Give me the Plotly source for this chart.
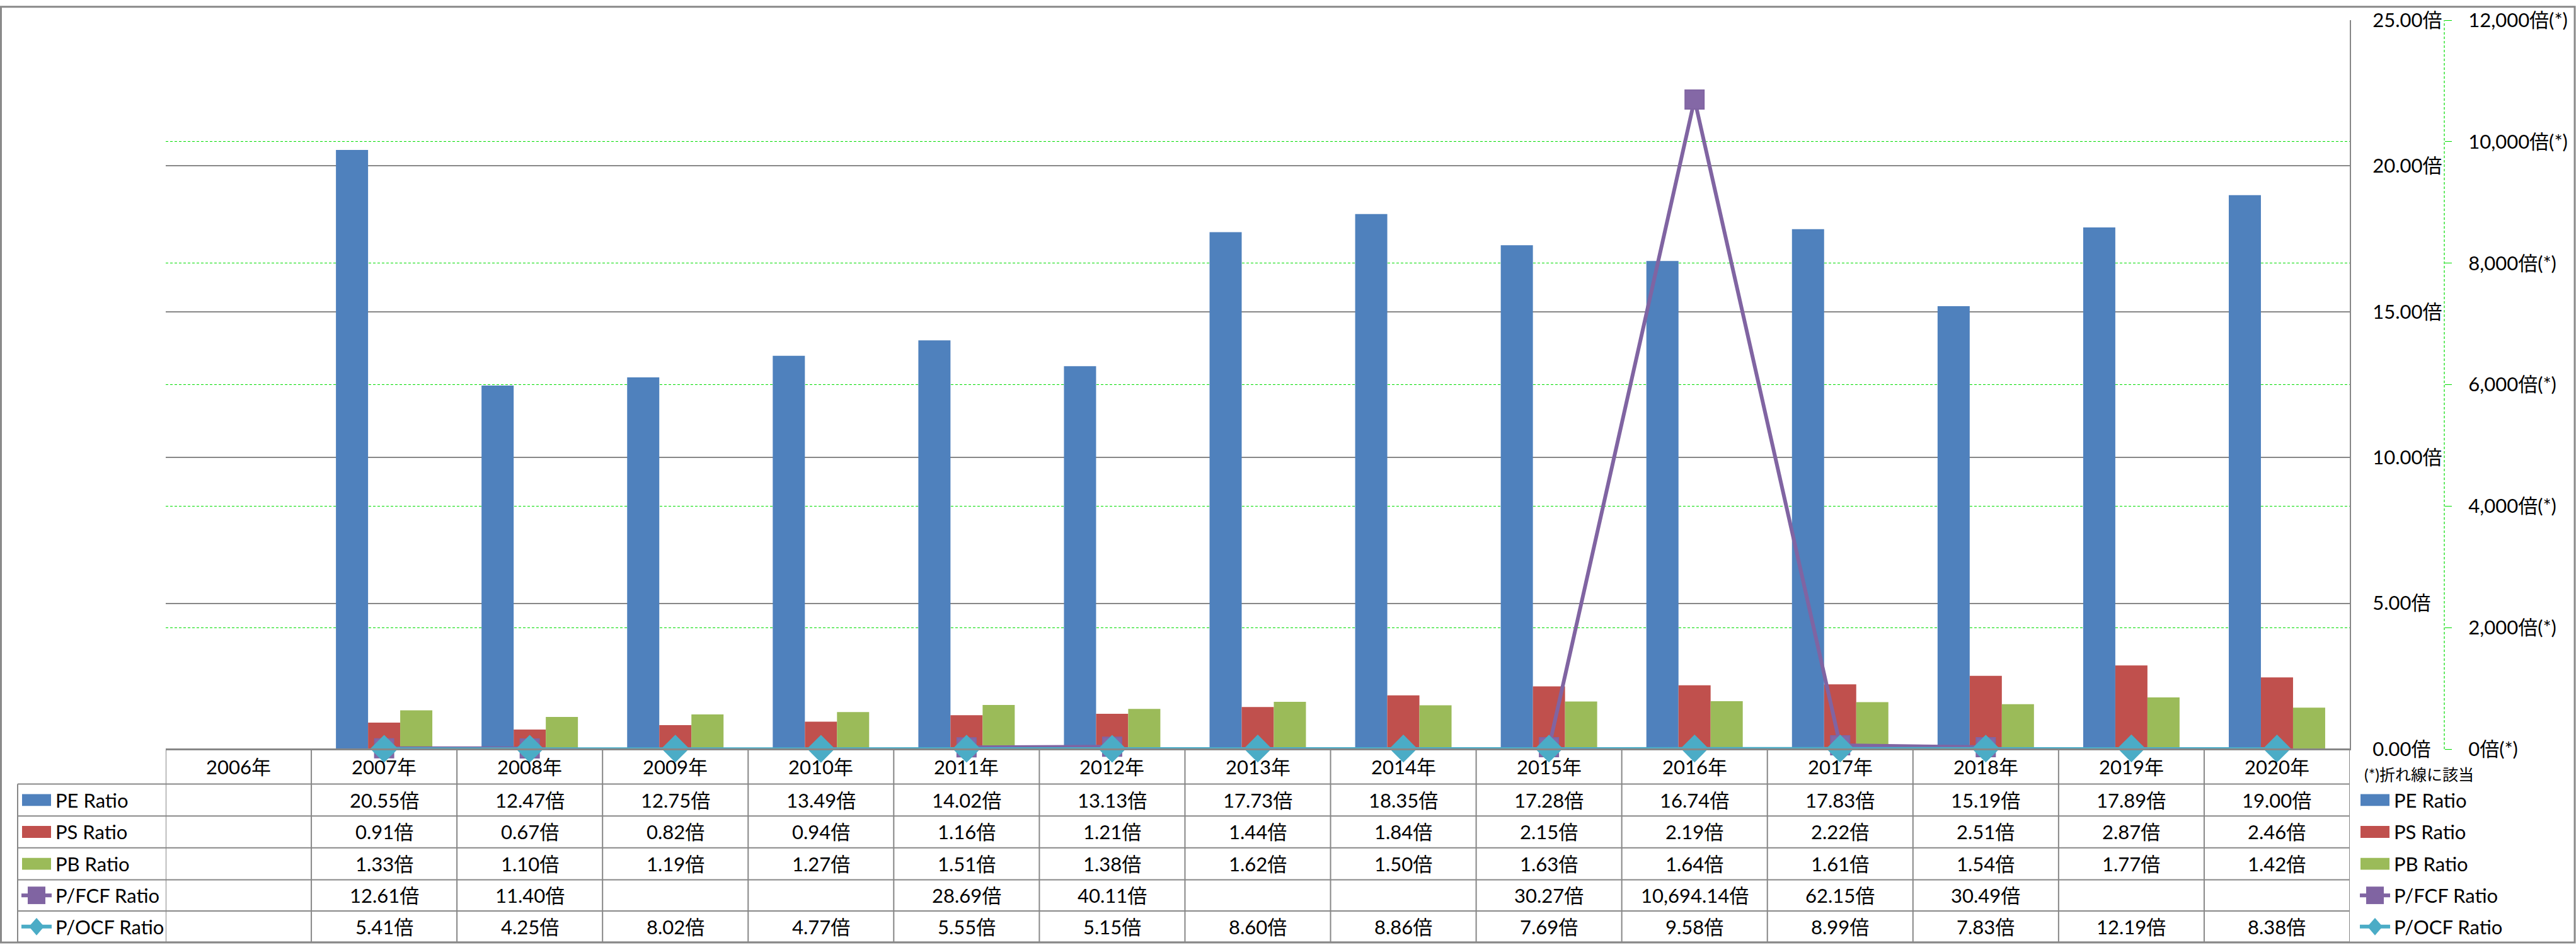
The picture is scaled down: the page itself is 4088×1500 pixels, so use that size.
import plotly.graph_objects as go

# ---------------- data ----------------
years = ["2006年", "2007年", "2008年", "2009年", "2010年", "2011年", "2012年", "2013年",
         "2014年", "2015年", "2016年", "2017年", "2018年", "2019年", "2020年"]
pe_ratio = [None, 20.55, 12.47, 12.75, 13.49, 14.02, 13.13, 17.73, 18.35, 17.28, 16.74, 17.83, 15.19, 17.89, 19.00]
ps_ratio = [None, 0.91, 0.67, 0.82, 0.94, 1.16, 1.21, 1.44, 1.84, 2.15, 2.19, 2.22, 2.51, 2.87, 2.46]
pb_ratio = [None, 1.33, 1.10, 1.19, 1.27, 1.51, 1.38, 1.62, 1.50, 1.63, 1.64, 1.61, 1.54, 1.77, 1.42]
pfcf_ratio = [None, 12.61, 11.40, None, None, 28.69, 40.11, None, None, 30.27, 10694.14, 62.15, 30.49, None, None]
pocf_ratio = [None, 5.41, 4.25, 8.02, 4.77, 5.55, 5.15, 8.60, 8.86, 7.69, 9.58, 8.99, 7.83, 12.19, 8.38]

series_names = ["PE Ratio", "PS Ratio", "PB Ratio", "P/FCF Ratio", "P/OCF Ratio"]
series_values = [pe_ratio, ps_ratio, pb_ratio, pfcf_ratio, pocf_ratio]

left_tickvals = [0, 5, 10, 15, 20, 25]
left_ticktext = ["0.00倍", "5.00倍", "10.00倍", "15.00倍", "20.00倍", "25.00倍"]
right_tickvals = [0, 2000, 4000, 6000, 8000, 10000, 12000]
right_ticktext = ["0倍(*)", "2,000倍(*)", "4,000倍(*)", "6,000倍(*)", "8,000倍(*)", "10,000倍(*)", "12,000倍(*)"]
note_text = "(*)折れ線に該当"

# ---------------- style ----------------
W, H = 4088, 1500
L, R, T, B = 263, 209, 23, 311          # margins (px)
PW, PH = W - L - R, H - T - B           # paper area size
PLOT_RIGHT = 3729                       # right edge of category area
FONT = "Lato, 'Noto Sans CJK JP', sans-serif"
FS = 31
GRAY = "#878787"
GREEN = "#00DD00"
colors = ["#4F81BD", "#C0504D", "#9BBB59", "#8064A2", "#4BACC6"]


def px(x):
    return (x - L) / PW


def py(y):
    return (T + PH - y) / PH


fig = go.Figure()

for name, vals, col in zip(series_names[:3], series_values[:3], colors[:3]):
    fig.add_trace(go.Bar(x=years, y=vals, name=name, marker=dict(color=col, line=dict(width=0)),
                         yaxis="y", showlegend=False))

fig.add_trace(go.Scatter(x=years, y=pfcf_ratio, name=series_names[3], yaxis="y2", mode="lines+markers",
                         line=dict(color=colors[3], width=6),
                         marker=dict(symbol="square", size=30, color="#8468A6",
                                     line=dict(color=colors[3], width=2)),
                         cliponaxis=False, showlegend=False))
fig.add_trace(go.Scatter(x=years, y=pocf_ratio, name=series_names[4], yaxis="y2", mode="lines+markers",
                         line=dict(color=colors[4], width=4.5),
                         marker=dict(symbol="diamond", size=34, color=colors[4]),
                         cliponaxis=False, showlegend=False))

shapes = []
annotations = []

# ---------------- data table ----------------
row_bounds = [1189, 1245, 1296, 1347, 1398, 1448, 1498]
row_centers = [(row_bounds[i] + row_bounds[i + 1]) / 2 for i in range(len(row_bounds) - 1)]
line_style = dict(color=GRAY, width=2)

shapes.append(dict(type="line", xref="paper", yref="paper", x0=px(L), x1=px(PLOT_RIGHT),
                   y0=py(row_bounds[0]), y1=py(row_bounds[0]), line=line_style))
for yb in row_bounds[1:]:
    shapes.append(dict(type="line", xref="paper", yref="paper", x0=px(28), x1=px(PLOT_RIGHT),
                       y0=py(yb), y1=py(yb), line=line_style))
for i in range(len(years) + 1):
    shapes.append(dict(type="line", xref="x", yref="paper", x0=i - 0.5, x1=i - 0.5,
                       y0=py(row_bounds[0]), y1=py(row_bounds[-1]), line=line_style))
shapes.append(dict(type="line", xref="paper", yref="paper", x0=px(28), x1=px(28),
                   y0=py(row_bounds[1]), y1=py(row_bounds[-1]), line=line_style))

for yr in years:
    annotations.append(dict(x=yr, xref="x", y=py(row_centers[0]), yref="paper", text=yr,
                            showarrow=False, xanchor="center", yanchor="middle",
                            font=dict(family=FONT, size=FS, color="black")))
for r, vals in enumerate(series_values):
    yc = py(row_centers[r + 1])
    for yr, v in zip(years, vals):
        if v is None:
            continue
        annotations.append(dict(x=yr, xref="x", y=yc, yref="paper", text=f"{v:,.2f}倍",
                                showarrow=False, xanchor="center", yanchor="middle",
                                font=dict(family=FONT, size=FS, color="black")))


def legend_key(kind, col, cx, cy):
    out = []
    if kind == "bar":
        out.append(dict(type="rect", xref="paper", yref="paper", x0=px(cx - 23), x1=px(cx + 23),
                        y0=py(cy + 9.5), y1=py(cy - 9.5), fillcolor=col, line=dict(width=0)))
    else:
        out.append(dict(type="line", xref="paper", yref="paper", x0=px(cx - 24), x1=px(cx + 24),
                        y0=py(cy), y1=py(cy), line=dict(color=col, width=6)))
        if kind == "square":
            out.append(dict(type="rect", xref="paper", yref="paper", x0=px(cx - 14), x1=px(cx + 14),
                            y0=py(cy + 14), y1=py(cy - 14), fillcolor=col, line=dict(width=0)))
        else:
            path = (f"M {px(cx)},{py(cy - 14)} L {px(cx + 12)},{py(cy)} "
                    f"L {px(cx)},{py(cy + 14)} L {px(cx - 12)},{py(cy)} Z")
            out.append(dict(type="path", xref="paper", yref="paper", path=path,
                            fillcolor=col, line=dict(width=0)))
    return out


kinds = ["bar", "bar", "bar", "square", "diamond"]
for r, (name, col, kind) in enumerate(zip(series_names, colors, kinds)):
    yc = row_centers[r + 1]
    shapes.extend(legend_key(kind, col, 58, yc))
    annotations.append(dict(x=px(86), xref="paper", y=py(yc), yref="paper", text=name,
                            showarrow=False, xanchor="left", yanchor="middle",
                            font=dict(family=FONT, size=FS, color="black")))
    shapes.extend(legend_key(kind, col, 3769, yc))
    annotations.append(dict(x=px(3797), xref="paper", y=py(yc), yref="paper", text=name,
                            showarrow=False, xanchor="left", yanchor="middle",
                            font=dict(family=FONT, size=FS, color="black")))

annotations.append(dict(x=px(3750), xref="paper", y=py(1229), yref="paper", text=note_text,
                        showarrow=False, xanchor="left", yanchor="middle",
                        font=dict(family=FONT, size=25, color="black")))

shapes.append(dict(type="line", xref="paper", yref="paper", x0=1, x1=1, y0=0, y1=1,
                   line=dict(color=GREEN, width=1.2, dash="4px,3px")))
shapes.append(dict(type="rect", xref="paper", yref="paper", x0=px(1.5), x1=px(4086),
                   y0=py(1498.5), y1=py(1.5), line=dict(color="#898989", width=3),
                   fillcolor="rgba(0,0,0,0)"))

fig.update_layout(
    width=W, height=H, autosize=False,
    margin=dict(l=L, r=R, t=T, b=B, pad=0),
    paper_bgcolor="white", plot_bgcolor="white",
    barmode="group", bargap=0.338, bargroupgap=0,
    showlegend=False,
    font=dict(family=FONT, size=FS, color="black"),
    xaxis=dict(domain=[0, px(PLOT_RIGHT)], type="category", range=[-0.5, len(years) - 0.5],
               showticklabels=False, ticks="", showgrid=False, zeroline=False,
               showline=True, linecolor=GRAY, linewidth=2),
    yaxis=dict(side="right", range=[0, 25], tickvals=left_tickvals, ticktext=left_ticktext,
               showgrid=True, gridcolor=GRAY, gridwidth=1.5, zeroline=False,
               showline=True, linecolor=GRAY, linewidth=2,
               ticks="outside", ticklen=28, tickcolor="rgba(0,0,0,0)", tickwidth=1,
               ticklabelposition="outside",
               tickfont=dict(family=FONT, size=FS, color="black")),
    yaxis2=dict(overlaying="y", side="right", anchor="free", position=1, range=[0, 12000],
                tickvals=right_tickvals, ticktext=right_ticktext,
                showgrid=True, gridcolor=GREEN, gridwidth=1.2, griddash="4px,3px", zeroline=False,
                showline=False, ticks="outside", ticklen=11, tickcolor=GREEN, tickwidth=1,
                ticklabelstandoff=20, tickfont=dict(family=FONT, size=FS, color="black")),
    shapes=shapes,
    annotations=annotations,
)

fig.write_html("out.html")
